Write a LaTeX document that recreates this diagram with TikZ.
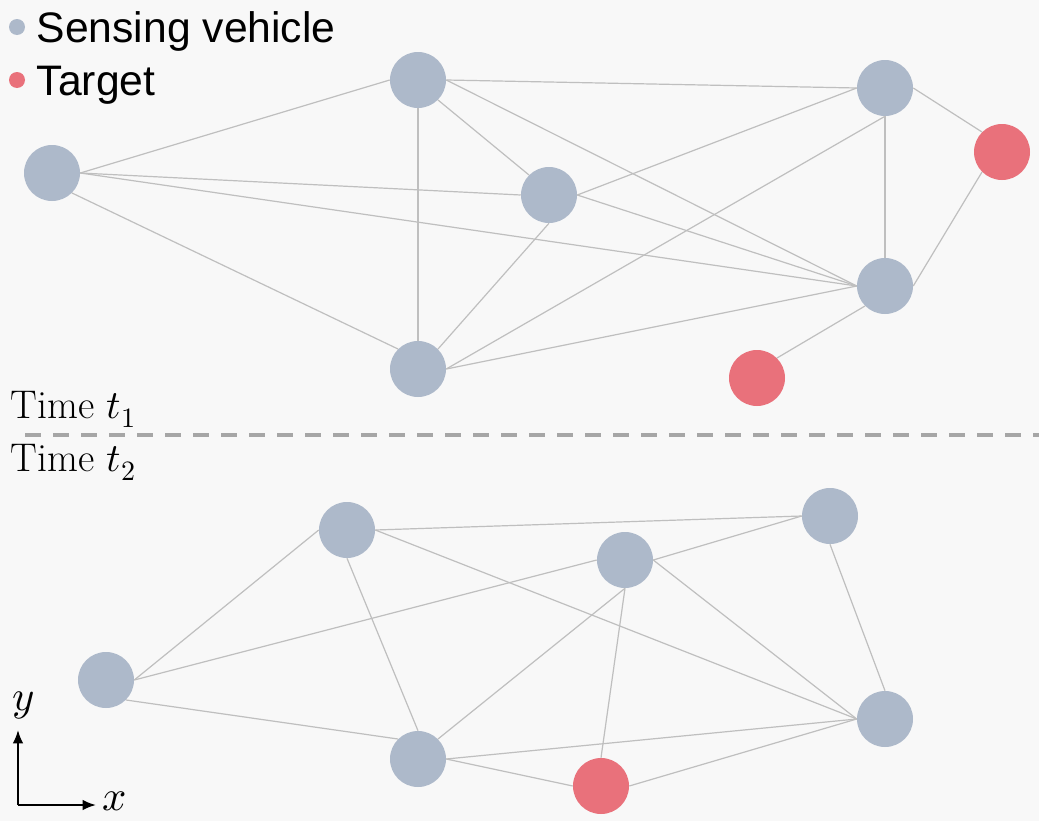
\documentclass[tikz,border=0pt]{standalone}
\usepackage{fontspec}
\usepackage{unicode-math}
\setmathfont{Latin Modern Math}
\newfontfamily\legendfont{Liberation Sans}
\usetikzlibrary{arrows.meta}
\definecolor{vehblue}{HTML}{ADB9CA}
\definecolor{tgtred}{HTML}{E9717B}
\definecolor{linkgray}{HTML}{BFBFBF}
\definecolor{bggray}{HTML}{F8F8F8}
\definecolor{sepgray}{HTML}{A6A6A6}
\begin{document}
\begin{tikzpicture}[x=0.75pt, y=-0.75pt,
  vehicle/.style={circle, fill=vehblue, minimum size=42pt, inner sep=0pt},
  target/.style={circle, fill=tgtred, minimum size=42pt, inner sep=0pt},
  keydot/.style={circle, minimum size=12pt, inner sep=0pt},
  link/.style={linkgray, line width=0.9pt},
  big/.style={font=\fontsize{30}{36}\selectfont},
  axlab/.style={font=\fontsize{32}{38}\selectfont}]
% background
\fill[bggray] (0,0) rectangle (1039,821);
\useasboundingbox (0,0) rectangle (1039,821);

% legend
\node[keydot, fill=vehblue] (keyveh) at (17,27) {};
\node[keydot, fill=tgtred] (keytgt) at (17,80) {};
\node[anchor=base west, font=\legendfont\fontsize{32}{38}\selectfont] (keyvehtxt) at (32,42) {Sensing vehicle};
\node[anchor=base west, font=\legendfont\fontsize{32}{38}\selectfont] (keytgttxt) at (32,95) {Target};

% time t1
\node[vehicle] (a1) at (52,173) {};
\node[vehicle] (a2) at (418,80) {};
\node[vehicle] (a3) at (549,195) {};
\node[vehicle] (a4) at (885,88) {};
\node[vehicle] (a5) at (885,286) {};
\node[vehicle] (a6) at (418,369) {};
\node[target] (p1) at (1002,152) {};
\node[target] (p2) at (757,378) {};

\draw[link] (a1.east) -- (a2.west);
\draw[link] (a1.east) -- (a3.west);
\draw[link] (a1.east) -- (a5.west);
\draw[link] (a1.south east) -- (a6.north west);
\draw[link] (a2.east) -- (a4.west);
\draw[link] (a2.east) -- (a5.west);
\draw[link] (a2.south east) -- (a3.north west);
\draw[link] (a2.south) -- (a6.north);
\draw[link] (a3.east) -- (a4.west);
\draw[link] (a3.east) -- (a5.west);
\draw[link] (a3.south) -- (a6.north east);
\draw[link] (a4.south) -- (a6.east);
\draw[link] (a4.south) -- (a5.north);
\draw[link] (a4.east) -- (p1.north west);
\draw[link] (a5.west) -- (a6.east);
\draw[link] (a5.east) -- (p1.south west);
\draw[link] (a5.south west) -- (p2.north east);

% separator
\node[big, anchor=base west] (time1) at (6,418) {Time $t_1$};
\coordinate (sepl) at (25,435);
\coordinate (sepr) at (1039,435);
\draw[sepgray, line width=3pt, dash pattern=on 12pt off 9pt] (sepl) -- (sepr);
\node[big, anchor=base west] (time2) at (6,471) {Time $t_2$};

% time t2
\node[vehicle] (b1) at (106,680) {};
\node[vehicle] (b2) at (347,530) {};
\node[vehicle] (b3) at (625,560) {};
\node[vehicle] (b4) at (830,516) {};
\node[vehicle] (b5) at (885,719) {};
\node[vehicle] (b6) at (418,759) {};
\node[target] (p3) at (601,786) {};

\draw[link] (b1.east) -- (b2.west);
\draw[link] (b1.east) -- (b3.west);
\draw[link] (b1.south east) -- (b6.north west);
\draw[link] (b2.east) -- (b4.west);
\draw[link] (b2.east) -- (b5.west);
\draw[link] (b2.south) -- (b6.north);
\draw[link] (b3.east) -- (b4.west);
\draw[link] (b3.east) -- (b5.west);
\draw[link] (b3.south) -- (b6.north east);
\draw[link] (b3.south) -- (p3.north);
\draw[link] (b4.south) -- (b5.north);
\draw[link] (b6.east) -- (b5.west);
\draw[link] (b6.east) -- (p3.west);
\draw[link] (p3.east) -- (b5.west);

% axes
\coordinate (origin) at (18,805);
\coordinate (ytip) at (18,730);
\coordinate (xtip) at (96,805);
\draw[line width=1.6pt, -{Latex[length=10pt,width=8pt]}] (origin) -- (ytip);
\draw[line width=1.6pt, -{Latex[length=10pt,width=8pt]}] (origin) -- (xtip);
\node[axlab] (ylab) at (24,705) {$y$};
\node[axlab, anchor=west] (xlab) at (98,801) {$x$};
\end{tikzpicture}
\end{document}
